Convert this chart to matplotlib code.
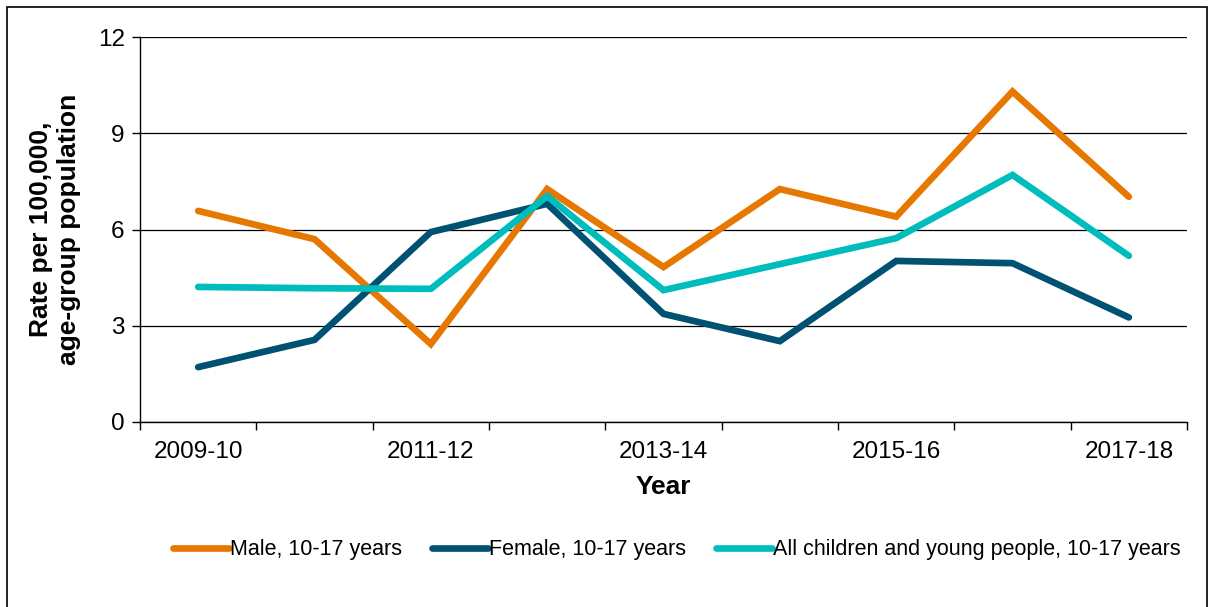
import matplotlib
matplotlib.use('Agg')
import matplotlib.pyplot as plt
from matplotlib.patches import Rectangle

plt.rcParams['font.family'] = ['Liberation Sans', 'DejaVu Sans']

years = ['2009-10', '2010-11', '2011-12', '2012-13', '2013-14',
         '2014-15', '2015-16', '2016-17', '2017-18']
male = [6.58, 5.70, 2.43, 7.26, 4.83, 7.26, 6.40, 10.30, 7.02]
female = [1.71, 2.56, 5.92, 6.80, 3.37, 2.52, 5.02, 4.95, 3.26]
all_cyp = [4.21, 4.17, 4.15, 7.04, 4.11, 4.92, 5.73, 7.70, 5.18]

series = [
    ('Male, 10-17 years', male, '#E67700'),
    ('Female, 10-17 years', female, '#005172'),
    ('All children and young people, 10-17 years', all_cyp, '#00BDBD'),
]

fig = plt.figure(figsize=(12.14, 6.07), dpi=100)
ax = fig.add_axes([140 / 1214, 1 - 422 / 607, 1047 / 1214, 385 / 607])

x = list(range(len(years)))
for name, vals, col in series:
    ax.plot(x, vals, color=col, linewidth=4.8, solid_capstyle='round',
            solid_joinstyle='miter', label=name)

ax.set_xlim(-0.5, len(years) - 0.5)
ax.set_ylim(0, 12)
ax.set_yticks([0, 3, 6, 9, 12])
ax.yaxis.grid(True, color='black', linewidth=0.9)
ax.set_axisbelow(True)
for s in ['top', 'right']:
    ax.spines[s].set_visible(False)
for s in ['left', 'bottom']:
    ax.spines[s].set_linewidth(1.0)

ax.set_xticks(x[::2])
ax.set_xticklabels(years[::2])
ax.set_xticks([i - 0.5 for i in range(len(years) + 1)], minor=True)
ax.tick_params(axis='x', which='major', length=0, pad=14, labelsize=17.5)
ax.tick_params(axis='x', which='minor', length=6, width=1, direction='out')
ax.tick_params(axis='y', length=6, width=1, labelsize=17.5, pad=5)

ax.set_xlabel('Year', fontsize=19, fontweight='bold', labelpad=8)
ax.set_ylabel('Rate per 100,000,\nage-group population', fontsize=19,
              fontweight='bold', labelpad=12, linespacing=1.2)

fig.legend(loc='center', bbox_to_anchor=(677 / 1214, 1 - 550 / 607), ncol=3,
           frameon=False, fontsize=15.5, handlelength=2.6, handletextpad=0.05,
           columnspacing=1.4)

fig.patches.append(Rectangle((7 / 1214, -0.01), 1200 / 1214, 1 - 7 / 607 + 0.01,
                             transform=fig.transFigure, fill=False,
                             edgecolor='black', linewidth=1.2))

fig.savefig('out.png', dpi=100)
